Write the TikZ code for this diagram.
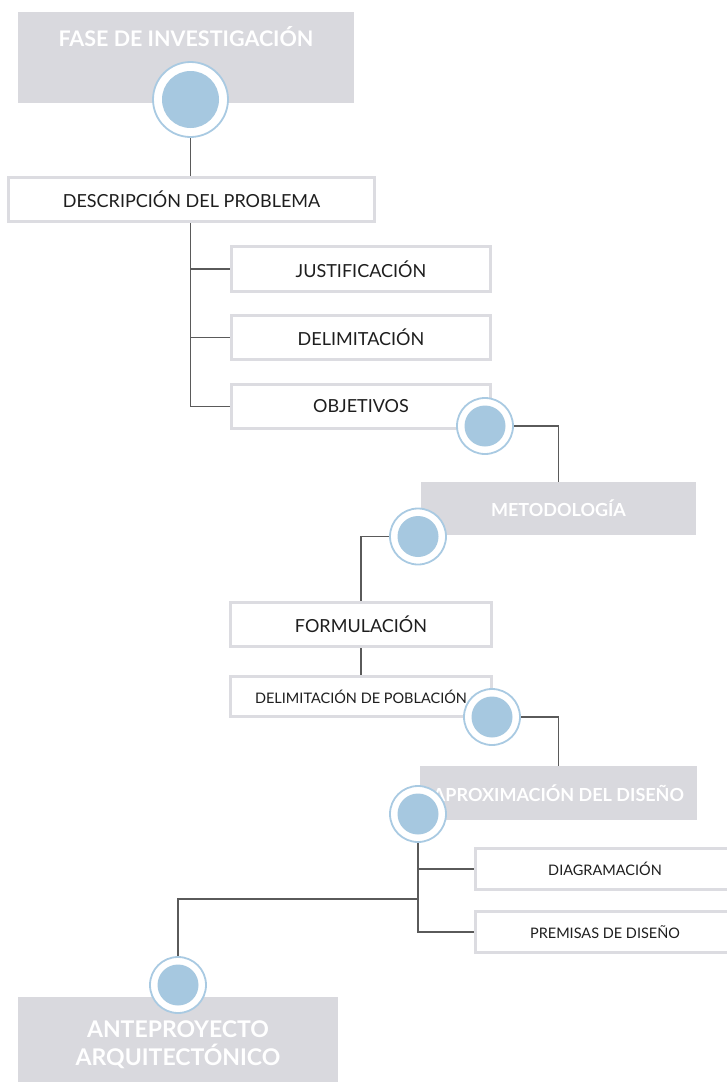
\documentclass[tikz,border=0pt]{standalone}
\usepackage{fontspec}
\setmainfont{Lato}
\usetikzlibrary{positioning}
\definecolor{boxgray}{HTML}{D9D9DE}
\definecolor{bordergray}{HTML}{DCDCE1}
\definecolor{ringblue}{HTML}{A9CAE2}
\definecolor{dotblue}{HTML}{A6C8E0}
\definecolor{linegray}{HTML}{5A5A5A}
\definecolor{txt}{HTML}{1E1E1E}
\pgfdeclarelayer{bg}
\pgfsetlayers{bg,main}
\tikzset{
  graybox/.style={rectangle, fill=boxgray, inner sep=0pt, text=white, align=center,
    font=\bfseries\fontsize{18}{28}\selectfont},
  titletext/.style={inner sep=0pt, text=white, font=\bfseries\fontsize{21.5}{24}\selectfont},
  whitebox/.style={rectangle, fill=white, draw=bordergray, line width=3pt, inner sep=0pt,
    text=txt, font=\fontsize{18}{21}\selectfont},
  smallbox/.style={whitebox, font=\fontsize{14.5}{17}\selectfont},
  ringnode/.style={circle, draw=ringblue, line width=1.8pt, fill=white, inner sep=0pt},
  dotnode/.style={circle, fill=dotblue, inner sep=0pt, minimum size=41pt},
  conn/.style={draw=linegray, line width=1.1pt},
}
\begin{document}
\begin{tikzpicture}[x=1pt,y=-1pt]
\useasboundingbox (0,0) rectangle (726,1082);
% gray boxes
\node[graybox, minimum width=336pt, minimum height=91pt] (g1) at (186,57.5) {};
\node[titletext] (g1t) at (186,37) {FASE DE INVESTIGACIÓN};
\node[graybox, minimum width=275pt, minimum height=53pt] (g2) at (558.5,508.5) {METODOLOGÍA};
\node[graybox, minimum width=277pt, minimum height=54pt] (g3) at (558.5,793) {APROXIMACIÓN DEL DISEÑO};
\node[graybox, minimum width=320pt, minimum height=96pt, font=\bfseries\fontsize{23}{28}\selectfont] (g4) at (178,1045) {ANTEPROYECTO\\ARQUITECTÓNICO};
% white boxes
\node[whitebox, minimum width=366pt, minimum height=44pt] (w1) at (191.5,199.5) {DESCRIPCIÓN DEL PROBLEMA};
\node[whitebox, minimum width=259pt, minimum height=45pt] (w2) at (361,269) {JUSTIFICACIÓN};
\node[whitebox, minimum width=259pt, minimum height=44pt] (w3) at (361,337.5) {DELIMITACIÓN};
\node[whitebox, minimum width=259pt, minimum height=44pt] (w4) at (361,406.5) {OBJETIVOS};
\node[whitebox, minimum width=261pt, minimum height=44pt] (w5) at (361,624.5) {FORMULACIÓN};
\node[smallbox, minimum width=261pt, minimum height=40pt] (w6) at (361,696.5) {DELIMITACIÓN DE POBLACIÓN};
\node[smallbox, minimum width=259pt, minimum height=41pt] (w7) at (605,869) {DIAGRAMACIÓN};
\node[smallbox, minimum width=259pt, minimum height=41pt] (w8) at (605,932) {PREMISAS DE DISEÑO};
% circles
\node[ringnode, minimum size=75pt] (c1) at (190.5,99.5) {};
\node[dotnode, minimum size=57pt] at (c1.center) {};
\node[ringnode, minimum size=56pt] (c2) at (485,426) {};
\node[dotnode] at (c2.center) {};
\node[ringnode, minimum size=56pt] (c3) at (418,536.5) {};
\node[dotnode] at (c3.center) {};
\node[ringnode, minimum size=56pt] (c4) at (492,717) {};
\node[dotnode] at (c4.center) {};
\node[ringnode, minimum size=56pt] (c5) at (418,814) {};
\node[dotnode] at (c5.center) {};
\node[ringnode, minimum size=56pt] (c6) at (178,985) {};
\node[dotnode] at (c6.center) {};
\coordinate (j) at (418,899);
% connectors
\begin{pgfonlayer}{bg}
\draw[conn] (c1.south) -- (c1.south |- w1.north);
\draw[conn] (c1.center |- w1.south) |- (w4.west);
\draw[conn] (c1.center |- w2.west) -- (w2.west);
\draw[conn] (c1.center |- w3.west) -- (w3.west);
\draw[conn] (c2.east) -| (g2.north);
\draw[conn] (c3.west) -| (w5.north);
\draw[conn] (w5.south) -- (w6.north);
\draw[conn] (c4.east) -| (g3.north);
\draw[conn] (c5.south) |- (w8.west);
\draw[conn] (c5.center |- w7.west) -- (w7.west);
\draw[conn] (j) -| (c6.north);
\end{pgfonlayer}
\end{tikzpicture}
\end{document}
